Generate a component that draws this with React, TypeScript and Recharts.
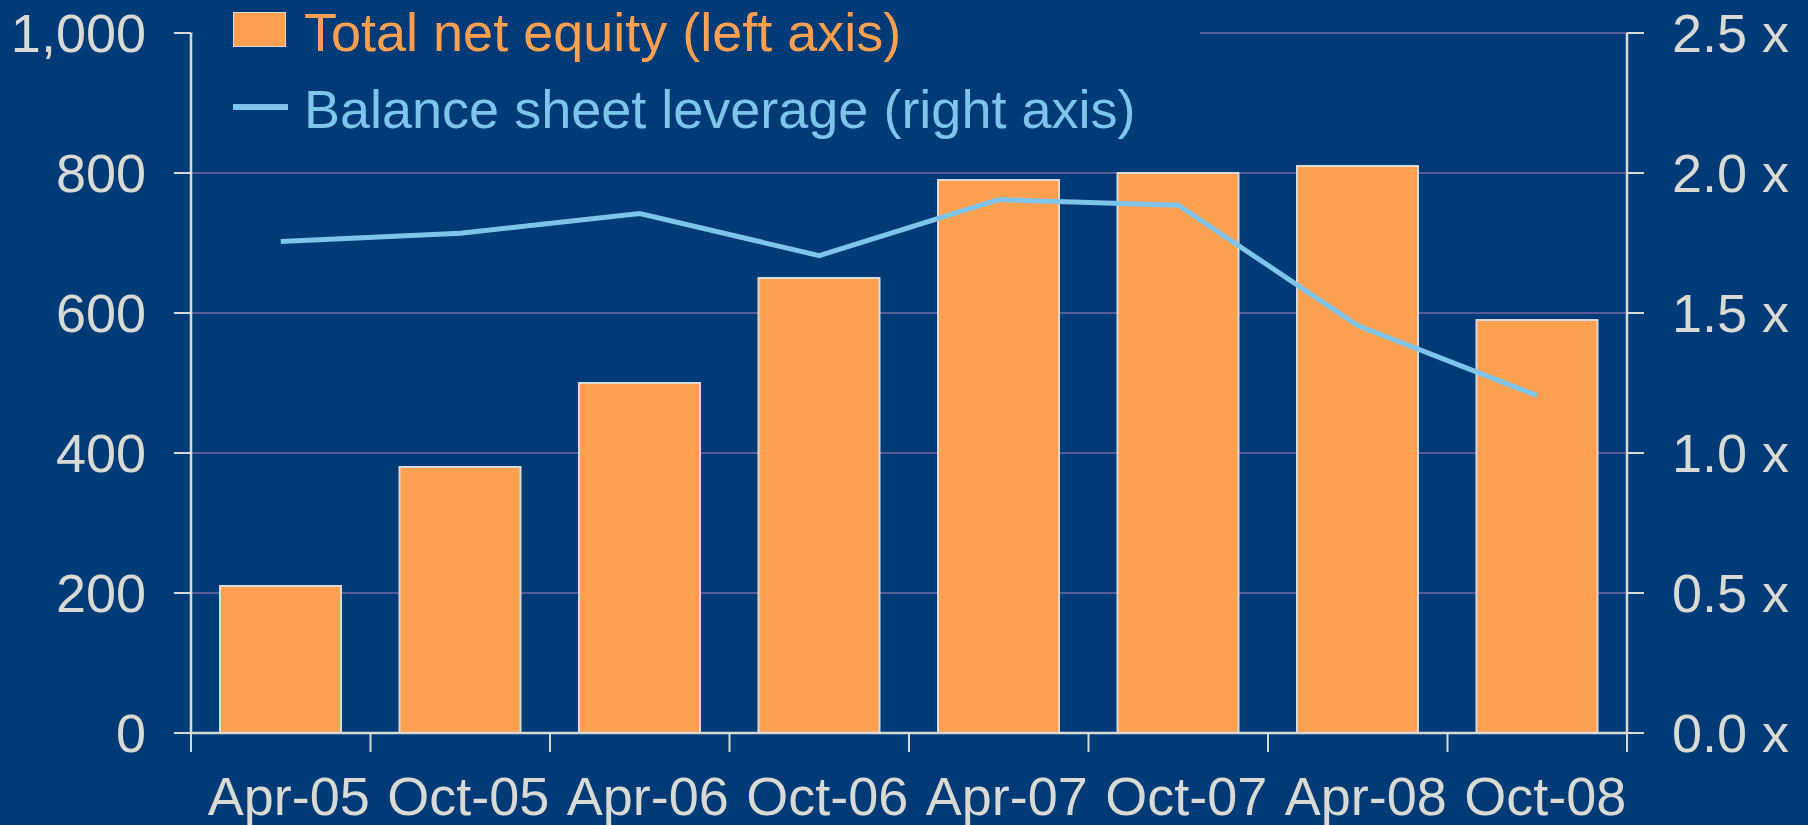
import {
  ComposedChart,
  Bar,
  Line,
  XAxis,
  YAxis,
  CartesianGrid,
} from "recharts";

const periods = [
  "Apr-05",
  "Oct-05",
  "Apr-06",
  "Oct-06",
  "Apr-07",
  "Oct-07",
  "Apr-08",
  "Oct-08",
];

// total net equity, left axis
const equity = [210, 380, 500, 650, 790, 800, 810, 590];

// balance sheet leverage (x), right axis
const leverage = [1.755, 1.785, 1.855, 1.705, 1.905, 1.885, 1.455, 1.205];

const leftTicks = [0, 200, 400, 600, 800, 1000];
const rightTicks = [0, 0.5, 1.0, 1.5, 2.0, 2.5];

const BG = "#013B77";
const ORANGE = "#FF9F50";
const BLUE = "#7FC5EB";
const AXIS = "#D8D8D4";
const GRID = "#5C5B9A";
const TEXT = "#DADAD4";
const FONT = "'Liberation Sans', Arial, Helvetica, sans-serif";

const W = 1808;
const H = 825;
const LEFT_W = 191;
const RIGHT_W = 181;
const BAND = (W - LEFT_W - RIGHT_W) / periods.length;

const rows = periods.map((period, i) => ({
  period,
  equity: equity[i],
  leverage: leverage[i],
}));

const PeriodTick = (props: any) => {
  const { x, y, payload, index } = props;
  const half = payload && payload.offset ? payload.offset : BAND / 2;
  return (
    <g>
      <line
        x1={x - half}
        x2={x - half}
        y1={y - 19}
        y2={y}
        stroke={AXIS}
        strokeWidth={2}
      />
      {index === periods.length - 1 && (
        <line
          x1={x + half}
          x2={x + half}
          y1={y - 19}
          y2={y}
          stroke={AXIS}
          strokeWidth={2}
        />
      )}
      <text
        x={x + 8}
        y={y + 63}
        textAnchor="middle"
        fill={TEXT}
        fontSize={54}
        fontFamily={FONT}
      >
        {payload.value}
      </text>
    </g>
  );
};

const App = () => {
  return (
    <div
      style={{
        position: "absolute",
        left: 0,
        top: 0,
        width: W,
        height: H,
        background: BG,
        overflow: "hidden",
      }}
    >
      <ComposedChart
        width={W}
        height={H}
        data={rows}
        margin={{ top: 33, right: 0, bottom: 0, left: 0 }}
      >
        <CartesianGrid
          yAxisId="left"
          vertical={false}
          stroke={GRID}
          strokeWidth={2}
        />

        <XAxis
          dataKey="period"
          height={92}
          interval={0}
          axisLine={{ stroke: AXIS, strokeWidth: 2.5 }}
          tickLine={false}
          tickSize={19}
          tickMargin={0}
          tick={<PeriodTick />}
        />

        <YAxis
          yAxisId="left"
          width={LEFT_W}
          domain={[0, 1000]}
          ticks={leftTicks}
          tickFormatter={(v: number) => v.toLocaleString("en-US")}
          axisLine={{ stroke: AXIS, strokeWidth: 2.5 }}
          tickLine={{ stroke: AXIS, strokeWidth: 2 }}
          tickSize={17}
          tickMargin={28}
          tick={{ fill: TEXT, fontSize: 54, fontFamily: FONT }}
        />

        <YAxis
          yAxisId="right"
          orientation="right"
          width={RIGHT_W}
          domain={[0, 2.5]}
          ticks={rightTicks}
          tickFormatter={(v: number) => v.toFixed(1) + " x"}
          axisLine={{ stroke: AXIS, strokeWidth: 2.5 }}
          tickLine={{ stroke: AXIS, strokeWidth: 2 }}
          tickSize={17}
          tickMargin={28}
          tick={{ fill: TEXT, fontSize: 54, fontFamily: FONT }}
        />

        <Bar
          yAxisId="left"
          dataKey="equity"
          fill={ORANGE}
          stroke="#D9D9D9"
          strokeWidth={2}
          barSize={121}
          isAnimationActive={false}
        />

        <Line
          yAxisId="right"
          type="linear"
          dataKey="leverage"
          stroke={BLUE}
          strokeWidth={5}
          dot={false}
          activeDot={false}
          isAnimationActive={false}
        />
      </ComposedChart>

      {/* legend box sits over the top gridline, like the original */}
      <div
        style={{
          position: "absolute",
          left: 193,
          top: 0,
          width: 1007,
          height: 140,
          background: BG,
          fontFamily: FONT,
          fontSize: 54,
          lineHeight: "64px",
        }}
      >
        <div
          style={{
            position: "absolute",
            left: 40,
            top: 12,
            width: 51,
            height: 33,
            background: ORANGE,
            border: "1px solid #D9D9D9",
          }}
        />
        <div
          style={{
            position: "absolute",
            left: 111,
            top: 0,
            color: ORANGE,
            whiteSpace: "nowrap",
          }}
        >
          Total net equity (left axis)
        </div>
        <div
          style={{
            position: "absolute",
            left: 40,
            top: 104,
            width: 55,
            height: 6,
            background: BLUE,
          }}
        />
        <div
          style={{
            position: "absolute",
            left: 111,
            top: 77,
            color: BLUE,
            whiteSpace: "nowrap",
          }}
        >
          Balance sheet leverage (right axis)
        </div>
      </div>
    </div>
  );
};

export default App;
